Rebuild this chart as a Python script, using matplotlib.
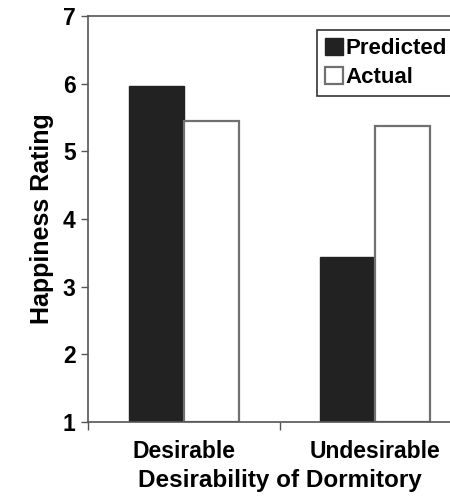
import numpy as np
import matplotlib.pyplot as plt

# ================= 数据 =================
categories = ["Desirable", "Undesirable"]
predicted = [5.96, 3.44]
actual = [5.45, 5.38]
series_labels = ["Predicted", "Actual"]

plt.rcParams['font.family'] = ['Liberation Sans', 'DejaVu Sans']
plt.rcParams['font.weight'] = 'bold'

fig = plt.figure(figsize=(4.5, 4.96), dpi=100)
# axes runs off the right edge of the figure, as in the reference crop
ax = fig.add_axes([88 / 450, 1 - 422 / 496, 383 / 450, 406 / 496])

x = np.arange(len(categories))
w = 0.288
ax.bar(x - w / 2, np.array(predicted) - 1, w, bottom=1, color='#222222',
       edgecolor='#222222', linewidth=1.0, label=series_labels[0])
ax.bar(x + w / 2, np.array(actual) - 1, w, bottom=1, color='white',
       edgecolor='#707070', linewidth=1.6, label=series_labels[1])

ax.set_xlim(-0.5, 1.5)
ax.set_ylim(1, 7)
ax.set_yticks(range(1, 8))

# group boundaries as major ticks, category names on minor ticks
ax.set_xticks([-0.5, 0.5, 1.5])
ax.set_xticklabels([])
ax.set_xticks(x, minor=True)
ax.set_xticklabels(categories, minor=True, fontsize=16.5, fontweight='bold')
ax.tick_params(axis='x', which='major', direction='out', length=6, width=1, color='#555555')
ax.tick_params(axis='x', which='minor', length=0, pad=13)
ax.tick_params(axis='y', direction='out', length=5, width=1, color='#555555',
               labelsize=16.5, pad=4)
for lab in ax.get_yticklabels():
    lab.set_fontweight('bold')

for s in ax.spines.values():
    s.set_color('#555555')
    s.set_linewidth(1.2)

ax.set_xlabel('Desirability of Dormitory', fontsize=17.5, fontweight='bold', labelpad=4)
ax.set_ylabel('Happiness Rating', fontsize=18, fontweight='bold', labelpad=6)

leg = ax.legend(loc='upper left', bbox_to_anchor=(229 / 383, (422 - 30) / 406),
                borderaxespad=0, fancybox=False, framealpha=1, edgecolor='#333333',
                handlelength=0.8, handleheight=0.8, handletextpad=0.15,
                labelspacing=0.35, borderpad=0.35, prop={'weight': 'bold', 'size': 16})
leg.get_frame().set_linewidth(1.2)

fig.savefig('out.png', dpi=100)
